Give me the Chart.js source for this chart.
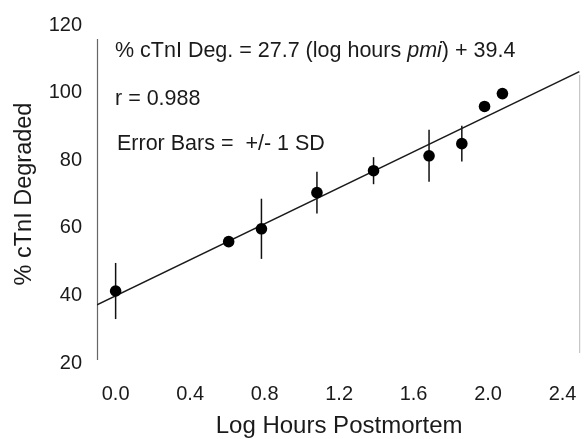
<!DOCTYPE html>
<html><head><meta charset="utf-8">
<script src="https://cdn.jsdelivr.net/npm/chart.js@4/dist/chart.umd.min.js"></script>
<style>html,body{margin:0;padding:0;background:#fff}#wrap{width:587px;height:439px;position:relative}</style>
</head><body><div id="wrap"><canvas id="c"></canvas></div>
<script>
// ---- data ----
const logHours = [0.0, 0.607, 0.783, 1.081, 1.385, 1.683, 1.859, 1.981, 2.077];
const pctDegraded = [41.3, 55.9, 59.7, 70.4, 76.9, 81.3, 84.9, 95.9, 99.7];
const sdValues = [8.3, 0, 8.9, 6.2, 4.0, 7.7, 5.3, 0, 0];
const fitX = [-0.1, 2.49];
const fitY = [37.2, 106.2];
const xTicks = [0.0, 0.4, 0.8, 1.2, 1.6, 2.0, 2.4];
const yTicks = [20, 40, 60, 80, 100, 120];
const xTitle = "Log Hours Postmortem";
const yTitle = "% cTnI Degraded";
const eqParts = [["% cTnI Deg. = 27.7 (log hours ", false], ["pmi", true], [") + 39.4", false]];
const rText = "r = 0.988";
const errText = "Error Bars =  +/- 1 SD";

const FONT = "'Liberation Sans', Arial, sans-serif";
const TXT = '#1a1a1a';

const extras = {
  id: 'extras',
  beforeDatasetsDraw(chart) {
    const {ctx, chartArea: a, scales: {x, y}} = chart;
    ctx.save();
    // axis frame lines (faint as in scan)
    ctx.strokeStyle = '#666'; ctx.lineWidth = 1.2;
    ctx.beginPath(); ctx.moveTo(a.left + 0.5, a.top + 14); ctx.lineTo(a.left + 0.5, a.bottom - 3); ctx.stroke();
    ctx.strokeStyle = '#bbb'; ctx.lineWidth = 1;
    ctx.beginPath(); ctx.moveTo(a.right - 1.5, a.top + 50); ctx.lineTo(a.right - 1.5, a.bottom - 10); ctx.stroke();
    // error bars
    ctx.strokeStyle = '#111'; ctx.lineWidth = 1.5;
    logHours.forEach((lx, i) => {
      const sd = sdValues[i];
      if (!sd) return;
      const px = x.getPixelForValue(lx);
      ctx.beginPath();
      ctx.moveTo(px, y.getPixelForValue(pctDegraded[i] + sd));
      ctx.lineTo(px, y.getPixelForValue(pctDegraded[i] - sd));
      ctx.stroke();
    });
    ctx.restore();
  },
  afterDatasetsDraw(chart) {
    const {ctx, chartArea: a} = chart;
    ctx.save();
    ctx.fillStyle = TXT;
    ctx.textBaseline = 'alphabetic';
    ctx.textAlign = 'left';
    let cx = a.left + 18;
    eqParts.forEach(([t, it]) => {
      ctx.font = (it ? 'italic ' : '') + '21.5px ' + FONT;
      ctx.fillText(t, cx, 57);
      cx += ctx.measureText(t).width;
    });
    ctx.font = '21.5px ' + FONT;
    ctx.fillText(rText, a.left + 18, 105);
    ctx.fillText(errText, a.left + 20, 150);
    ctx.restore();
  }
};

new Chart(document.getElementById('c'), {
  type: 'scatter',
  data: {
    datasets: [
      {
        label: 'fit',
        data: fitX.map((v, i) => ({x: v, y: fitY[i]})),
        showLine: true, borderColor: '#1a1a1a', borderWidth: 1.6,
        pointRadius: 0, order: 2
      },
      {
        label: 'cTnI',
        data: logHours.map((v, i) => ({x: v, y: pctDegraded[i]})),
        pointRadius: 5.8, pointBackgroundColor: '#000', pointBorderColor: '#000',
        pointBorderWidth: 0, showLine: false, order: 1
      }
    ]
  },
  options: {
    responsive: true, maintainAspectRatio: false, animation: false,
    layout: {padding: {top: 25, right: 2, left: 0, bottom: 0}},
    plugins: {legend: {display: false}, tooltip: {enabled: false}},
    scales: {
      x: {
        type: 'linear', min: -0.1, max: 2.5,
        afterBuildTicks: s => { s.ticks = xTicks.map(v => ({value: v})); },
        afterFit: s => { s.height = 76; s.paddingLeft = 0; s.paddingRight = 0; },
        grid: {display: false, drawTicks: false}, border: {display: false},
        ticks: {color: TXT, font: {family: FONT, size: 20}, padding: 19,
                callback: v => Number(v).toFixed(1), maxRotation: 0},
        title: {display: true, text: xTitle, color: TXT, font: {family: FONT, size: 24}, padding: {top: 0, bottom: -2}}
      },
      y: {
        type: 'linear', min: 20, max: 120,
        afterBuildTicks: s => { s.ticks = yTicks.map(v => ({value: v})); },
        afterFit: s => { s.width = 97; s.paddingTop = 0; s.paddingBottom = 0; },
        grid: {display: false, drawTicks: false}, border: {display: false},
        ticks: {color: TXT, font: {family: FONT, size: 20}, padding: 15},
        title: {display: true, text: yTitle, color: TXT, font: {family: FONT, size: 23.5}, padding: {top: 10, bottom: 0}}
      }
    }
  },
  plugins: [extras]
});
</script>
</body></html>
